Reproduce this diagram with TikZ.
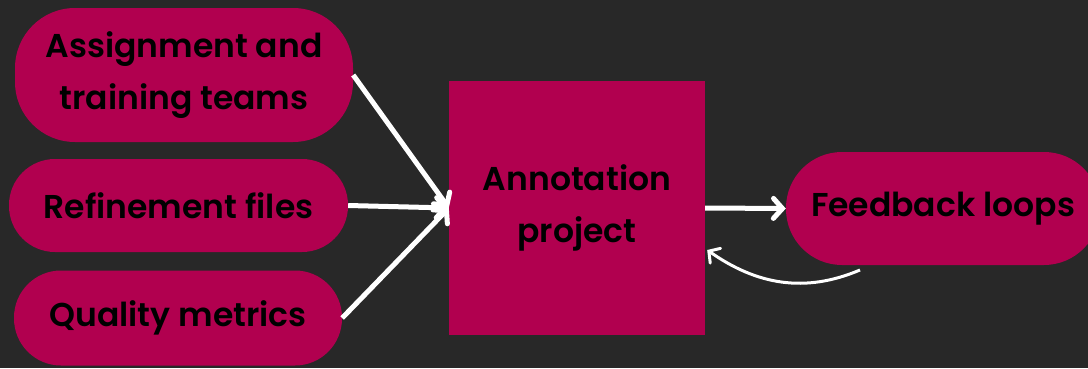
\documentclass[tikz,border=0pt]{standalone}
\usepackage{fontspec}
\setmainfont{Poppins}[BoldFont={Poppins SemiBold}]
\usepackage{xcolor}
\usetikzlibrary{arrows.meta}
\definecolor{bgdark}{HTML}{282828}
\definecolor{berry}{HTML}{B1004F}

\tikzset{
  pill/.style={fill=berry, text=black, align=center, inner sep=0pt, font=\fontsize{33}{52}\selectfont\bfseries},
  flow/.style={draw=white, line width=5pt, -{Straight Barb[length=9pt,width=20pt,line cap=round]}}
}

\begin{document}
\begin{tikzpicture}[x=1pt,y=1pt]
% Background
\fill [bgdark] (0,0) rectangle (1088,368);
\useasboundingbox (0,0) rectangle (1088,368);

% Left-hand inputs
\node [pill, rounded corners=60pt, minimum width=338pt, minimum height=134pt] (assign) at (184,293) {Assignment and\\training teams};
\node [pill, rounded corners=46pt, minimum width=339pt, minimum height=93pt] (refine) at (178.5,162.5) {Refinement files};
\node [pill, rounded corners=47pt, minimum width=328pt, minimum height=95pt] (quality) at (178,50) {Quality metrics};

% Centre box
\node [pill, minimum width=256pt, minimum height=254pt] (annot) at (577,160) {Annotation\\project};

% Right-hand output
\node [pill, rounded corners=56pt, minimum width=314pt, minimum height=113pt] (feedback) at (943,159.5) {Feedback loops};

% arrows in
\draw [flow] (assign.east) -- (annot.west);
\draw [flow] (refine.east) -- (annot.west);
\draw [flow] (quality.east) -- (annot.west);

% arrow out
\draw [flow] (annot.east) -- (feedback.west);

% loop back
\coordinate (loopstart) at (860,98);
\draw [draw=white, line width=3pt, -{Straight Barb[length=8pt,width=18pt,line cap=round]}]
  (loopstart) to[out=203,in=-35] ([xshift=2pt,yshift=-42pt]annot.east);
\end{tikzpicture}
\end{document}
